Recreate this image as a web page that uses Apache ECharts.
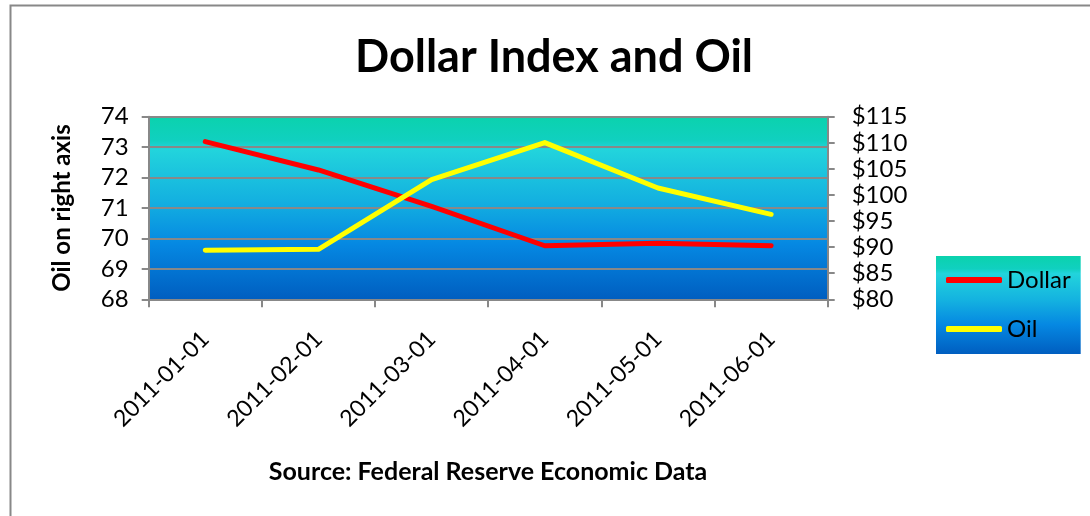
<!DOCTYPE html>
<html>
<head>
<meta charset="utf-8">
<script src="https://cdn.jsdelivr.net/npm/echarts@6/dist/echarts.min.js"></script>
<style>
  html, body { margin: 0; padding: 0; background: #fff; }
  #chart { width: 1090px; height: 516px; }
</style>
</head>
<body>
<div id="chart"></div>
<script>
// Monthly observations, Jan-Jun 2011
const months = ['2011-01-01', '2011-02-01', '2011-03-01', '2011-04-01', '2011-05-01', '2011-06-01'];
const dollarIndex = [73.18, 72.25, 71.05, 69.76, 69.84, 69.76];
const oilPrice = [89.42, 89.58, 102.94, 110.04, 101.33, 96.29];

const FONT = 'Lato, "Open Sans", sans-serif';
const AXIS_GRAY = '#888888';

const oceanFill = () => new echarts.graphic.LinearGradient(0, 0, 0, 1, [
  { offset: 0.00, color: '#0bd2ad' },
  { offset: 0.13, color: '#10d0c0' },
  { offset: 0.18, color: '#22d4dc' },
  { offset: 0.45, color: '#14b2e0' },
  { offset: 0.70, color: '#0588e2' },
  { offset: 1.00, color: '#005ec0' }
]);

const chart = echarts.init(document.getElementById('chart'), null, { renderer: 'canvas' });

chart.setOption({
  animation: false,
  backgroundColor: '#ffffff',
  title: {
    text: 'Dollar Index and Oil',
    left: 549,
    textAlign: 'center',
    top: 30,
    textStyle: { fontFamily: FONT, fontSize: 45, fontWeight: 'bold', color: '#000' }
  },
  graphic: [
    {
      type: 'rect',
      shape: { x: 10.5, y: 5.5, width: 1200, height: 700 },
      style: { fill: 'none', stroke: AXIS_GRAY, lineWidth: 2 },
      silent: true
    },
    {
      type: 'text',
      x: 488,
      y: 472,
      style: {
        text: 'Source: Federal Reserve Economic Data',
        fill: '#000',
        font: 'bold 25px ' + FONT,
        textAlign: 'center',
        textVerticalAlign: 'middle'
      }
    }
  ],
  legend: {
    orient: 'vertical',
    left: 936,
    top: 256,
    padding: [12, 10, 13, 10],
    itemGap: 25,
    itemWidth: 56,
    itemHeight: 6,
    icon: 'roundRect',
    backgroundColor: oceanFill(),
    textStyle: { fontFamily: FONT, fontSize: 24, color: '#000' },
    data: ['Dollar', 'Oil']
  },
  grid: {
    left: 148.7,
    right: 262.3,
    top: 116.7,
    height: 182.6,
    show: true,
    backgroundColor: oceanFill(),
    borderWidth: 0
  },
  xAxis: {
    type: 'category',
    data: months,
    boundaryGap: true,
    axisLine: { lineStyle: { color: AXIS_GRAY, width: 2 } },
    axisTick: { show: true, length: 8, lineStyle: { color: AXIS_GRAY, width: 2 } },
    axisLabel: {
      rotate: 45,
      margin: 36,
      fontFamily: FONT,
      fontSize: 23,
      color: '#000'
    }
  },
  yAxis: [
    {
      type: 'value',
      min: 68,
      max: 74,
      interval: 1,
      position: 'left',
      name: 'Oil on right axis',
      nameLocation: 'middle',
      nameGap: 74,
      nameTextStyle: { fontFamily: FONT, fontSize: 24, fontWeight: 'bold', color: '#000' },
      axisLine: { show: true, lineStyle: { color: AXIS_GRAY, width: 2 } },
      axisTick: { show: true, length: 7, lineStyle: { color: AXIS_GRAY, width: 2 } },
      axisLabel: { fontFamily: FONT, fontSize: 24, color: '#000', margin: 20 },
      splitLine: { show: true, lineStyle: { color: AXIS_GRAY, width: 2 } }
    },
    {
      type: 'value',
      min: 80,
      max: 115,
      interval: 5,
      position: 'right',
      axisLine: { show: true, lineStyle: { color: AXIS_GRAY, width: 2 } },
      axisTick: { show: true, length: 7, lineStyle: { color: AXIS_GRAY, width: 2 } },
      axisLabel: {
        fontFamily: FONT, fontSize: 24, color: '#000', margin: 24,
        formatter: v => '$' + v
      },
      splitLine: { show: false }
    }
  ],
  series: [
    {
      name: 'Dollar',
      type: 'line',
      yAxisIndex: 0,
      data: dollarIndex,
      showSymbol: false,
      symbol: 'none',
      lineStyle: { color: '#ff0000', width: 5, cap: 'round', join: 'round' },
      itemStyle: { color: '#ff0000' },
      z: 3
    },
    {
      name: 'Oil',
      type: 'line',
      yAxisIndex: 1,
      data: oilPrice,
      showSymbol: false,
      symbol: 'none',
      lineStyle: { color: '#ffff00', width: 5, cap: 'round', join: 'round' },
      itemStyle: { color: '#ffff00' },
      z: 4
    }
  ]
});
</script>
</body>
</html>
